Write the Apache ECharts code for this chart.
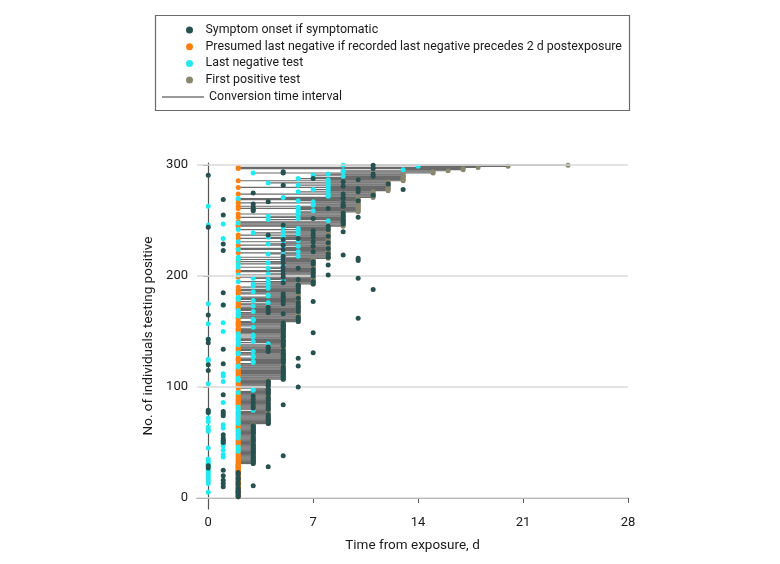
<!DOCTYPE html>
<html><head><meta charset="utf-8">
<script src="https://cdn.jsdelivr.net/npm/echarts@6/dist/echarts.min.js"></script>
<style>html,body{margin:0;padding:0;background:#fff}#c{width:780px;height:564px}</style>
</head><body><div id="c"></div>
<script>
// Individuals are stacked bottom to top in blocks sharing the same first positive test day.
const firstPositiveDays   = [2, 3, 4, 5, 6, 7, 8, 9, 10, 11, 12, 13, 15, 16, 17, 18, 20, 24];
const firstPositiveCounts = [30, 36, 40, 52, 34, 23, 29, 13, 13, 6, 9, 7, 2, 1, 2, 1, 1, 1];
// Recorded last negative test day per individual within each block
// ('-' = none recorded; 0-9 days, a=10, b=11, c=12, d=13, e=14)
const lastNegativeCodes = [
  "----0-------0-0-0-0-0-0-0--0-0",
  "0-0-0-1-1--212021-1-1--2-2-2202010-1",
  "2202-02-220232-2---1--------2-33----0-12",
  "22-1-1-----22--3300-33-223-----24232023232-1---3--01",
  "-33--222232---3104-322244--3--4-34",
  "342543-5245--5425524-52",
  "52654-652-56-45265145-6356265",
  "-012-846-46-6",
  "676-6077-76-2",
  "588-86",
  "878-86848",
  "-867978",
  "39", "9", "d-", "-", "e", "9"
];
// Symptom onset day per individual ('.' = asymptomatic)
const symptomOnsetCodes = [
  "22.222.2213212.122.12.2.1.040.",
  "3.33.3353.33.33.33.131313.133.33.33.",
  "44.44.41410104343543.434.3144.44.644.44.",
  "5.55.55505.56015.5565.557451445.50550.55.575.55.55.5",
  "6.6a6.05464.64615675.655.516.b6.66",
  "757.6a57857.5765.8757a5",
  "a8598.7158.75187.567847.978.0",
  "859.9.97a91.9",
  ".338399394a19",
  "9.b93a",
  ".da.95c.9",
  ".a7.b0b",
  "55", ".", ".b", ".", ".", "b"
];
const presumedLastNegativeDay = 2;
const xTickValues = [0, 7, 14, 21, 28];
const yTickValues = [0, 100, 200, 300];

const FONT = 'Roboto';
function decode(ch) {
  if (ch === undefined || ch === '-' || ch === '.') return null;
  const v = parseInt(ch, 36);
  return isNaN(v) ? null : v;
}

const intervals = [], symptomPts = [], presumedPts = [], lastNegPts = [], firstPosPts = [];
let idx = 0;
firstPositiveDays.forEach((pos, g) => {
  const L = lastNegativeCodes[g], S = symptomOnsetCodes[g];
  for (let k = 0; k < firstPositiveCounts[g]; k++) {
    idx++;
    const rec = decode(L[k]), sym = decode(S[k]);
    let start;
    if (rec === null || rec < presumedLastNegativeDay) {
      presumedPts.push([presumedLastNegativeDay, idx]);
      start = presumedLastNegativeDay;
    } else start = rec;
    if (rec !== null) lastNegPts.push([rec, idx]);
    if (sym !== null) symptomPts.push([sym, idx]);
    firstPosPts.push([pos, idx]);
    intervals.push([start, pos, idx]);
  }
});

const NAMES = {
  sym: 'Symptom onset if symptomatic',
  pre: 'Presumed last negative if recorded last negative precedes 2 d postexposure',
  neg: 'Last negative test',
  pos: 'First positive test',
  conv: 'Conversion time interval'
};
const COLORS = { sym: '#27514f', pre: '#ff7f0e', neg: '#22e8f2', pos: '#88876f', conv: '#999999', line: '#6a6a6a' };

const chart = echarts.init(document.getElementById('c'), null, { renderer: 'canvas' });
const textStyle = { fontFamily: FONT, fontSize: 12.4, color: '#1a1a1a', lineHeight: 14 };
const dotSize = 5;
chart.setOption({
  animation: false,
  backgroundColor: '#fff',
  grid: { left: 197, right: 152, top: 163, bottom: 55, containLabel: false },
  graphic: [{
    type: 'rect', left: 153, top: 13, silent: true,
    shape: { width: 474, height: 95 },
    style: { fill: 'none', stroke: '#6a6a6a', lineWidth: 1.2 }
  }],
  legend: [{
    data: [NAMES.sym, NAMES.pre, NAMES.neg, NAMES.pos],
    orient: 'vertical', left: 186, top: 23,
    icon: 'circle', itemWidth: 22, itemHeight: 7, itemGap: 2.7,
    selectedMode: false, textStyle: textStyle, padding: 0
  }, {
    data: [{ name: NAMES.conv, icon: 'path://M0,0H40V2H0Z', itemStyle: { color: COLORS.conv } }],
    orient: 'vertical', left: 162, top: 90,
    itemWidth: 42, itemHeight: 8,
    selectedMode: false, textStyle: textStyle, padding: 0
  }],
  xAxis: {
    type: 'value', min: -0.75, max: 28,
    name: 'Time from exposure, d', nameLocation: 'middle', nameGap: 30,
    nameTextStyle: { fontFamily: FONT, fontSize: 13.5, color: '#1a1a1a' },
    axisLine: { show: true, lineStyle: { color: '#555', width: 1.2 } },
    axisTick: { show: true, length: 5, customValues: xTickValues, lineStyle: { color: '#555' } },
    axisLabel: { customValues: xTickValues, margin: 7, fontFamily: FONT, fontSize: 13, color: '#1a1a1a' },
    splitLine: { show: false }
  },
  yAxis: {
    type: 'value', min: -10, max: 302,
    name: 'No. of individuals testing positive', nameLocation: 'middle', nameGap: 38,
    nameTextStyle: { fontFamily: FONT, fontSize: 13.5, color: '#1a1a1a' },
    axisLine: { show: true, lineStyle: { color: '#555', width: 1.2 } },
    axisTick: { show: true, length: 5, customValues: yTickValues, lineStyle: { color: '#555' } },
    axisLabel: { customValues: yTickValues, margin: 9, fontFamily: FONT, fontSize: 13, color: '#1a1a1a' },
    splitLine: { show: false }
  },
  series: [{
    type: 'line', data: [], silent: true, z: 0,
    markLine: {
      silent: true, symbol: 'none', label: { show: false },
      lineStyle: { color: '#dadada', width: 1.5, type: 'solid' },
      data: yTickValues.map(v => ({ yAxis: v }))
    }
  }, {
    name: NAMES.conv, type: 'custom', z: 1,
    itemStyle: { color: COLORS.conv },
    data: intervals,
    encode: { x: [0, 1], y: 2 },
    renderItem: (params, api) => {
      const a = api.coord([api.value(0), api.value(2)]);
      const b = api.coord([api.value(1), api.value(2)]);
      return { type: 'line', shape: { x1: a[0], y1: a[1], x2: b[0], y2: b[1] },
        style: { stroke: COLORS.line, lineWidth: 1.2 } };
    }
  }, {
    name: NAMES.pos, type: 'scatter', z: 2, symbolSize: dotSize, data: firstPosPts,
    itemStyle: { color: COLORS.pos, opacity: 1 }
  }, {
    name: NAMES.pre, type: 'scatter', z: 3, symbolSize: dotSize, data: presumedPts,
    itemStyle: { color: COLORS.pre, opacity: 1 }
  }, {
    name: NAMES.neg, type: 'scatter', z: 4, symbolSize: dotSize, data: lastNegPts,
    itemStyle: { color: COLORS.neg, opacity: 1 }
  }, {
    name: NAMES.sym, type: 'scatter', z: 5, symbolSize: dotSize, data: symptomPts,
    itemStyle: { color: COLORS.sym, opacity: 1 }
  }]
});
</script></body></html>
